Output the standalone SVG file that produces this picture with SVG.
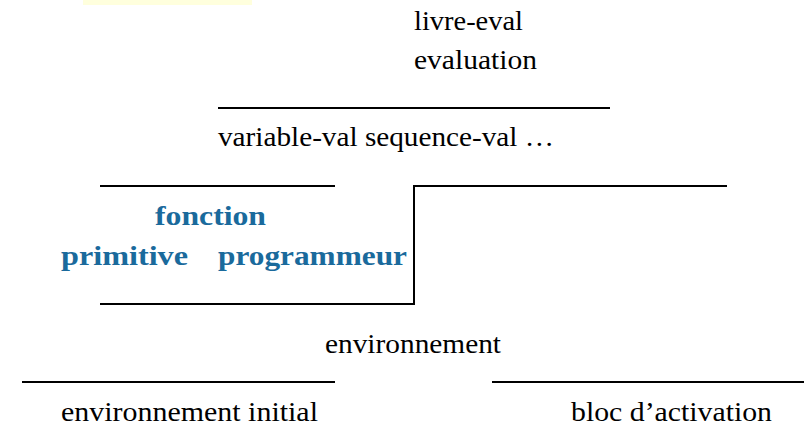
<svg xmlns="http://www.w3.org/2000/svg" width="804" height="428" viewBox="0 0 804 428">
<style>
text{font-family:'Liberation Serif','Times New Roman',Times,Tinos,'Noto Serif','DejaVu Serif',serif;font-size:28px}
.t{fill:#000}
.b{font-weight:bold;fill:#1a6a9c}
.l{stroke:#000;stroke-width:2;fill:none}
</style>
<rect x="83" y="0" width="169" height="5" fill="#ffffdd"/>
<g id="connectors">
<line class="l" x1="218" y1="108" x2="610" y2="108"/>
<line class="l" x1="100" y1="186" x2="335" y2="186"/>
<path class="l" d="M100 304 H414 V186 H727"/>
<line class="l" x1="22" y1="382" x2="335" y2="382"/>
<line class="l" x1="492" y1="382" x2="804" y2="382"/>
</g>
<g id="livre-eval"><text class="t" x="414" y="30" textLength="109" lengthAdjust="spacingAndGlyphs">livre-eval</text></g>
<g id="evaluation"><text class="t" x="414" y="69" textLength="123" lengthAdjust="spacingAndGlyphs">evaluation</text></g>
<g id="variable-val"><text class="t" x="218" y="146" textLength="336" lengthAdjust="spacingAndGlyphs">variable-val sequence-val …</text></g>
<g id="fonction"><text class="b" x="155" y="225" textLength="111" lengthAdjust="spacingAndGlyphs">fonction</text></g>
<g id="primitive"><text class="b" x="61" y="265" textLength="127" lengthAdjust="spacingAndGlyphs">primitive</text></g>
<g id="programmeur"><text class="b" x="218" y="265" textLength="189" lengthAdjust="spacingAndGlyphs">programmeur</text></g>
<g id="environnement"><text class="t" x="325" y="353" textLength="176" lengthAdjust="spacingAndGlyphs">environnement</text></g>
<g id="environnement-initial"><text class="t" x="61" y="421" textLength="257" lengthAdjust="spacingAndGlyphs">environnement initial</text></g>
<g id="bloc-activation"><text class="t" x="571" y="421" textLength="201" lengthAdjust="spacingAndGlyphs">bloc d’activation</text></g>
</svg>
